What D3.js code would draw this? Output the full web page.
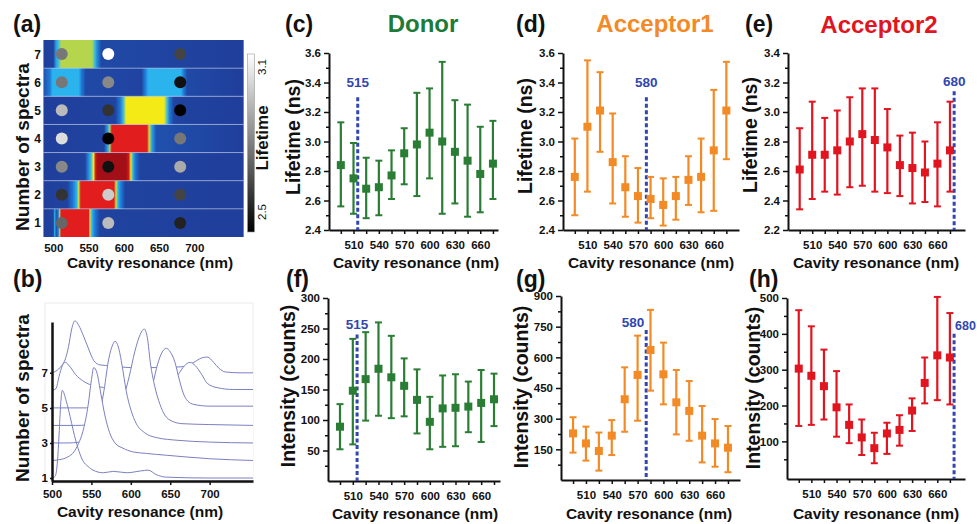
<!DOCTYPE html>
<html>
<head>
<meta charset="utf-8">
<title>Cavity resonance: lifetime and intensity</title>
<script src="https://cdn.jsdelivr.net/npm/d3@7/dist/d3.min.js"></script>
<style>
    body { margin: 0; background: #ffffff; }
    svg { display: block; }
</style>
</head>
<body>
<svg id="figure" width="977" height="524"></svg>
<script>
/*
    DATA
*/

// cavity resonance of each measurement, nm
var resonance = [495, 510, 525, 540, 555, 570, 585, 600, 615, 630, 645, 660, 675];
var labelledResonance = [510, 540, 570, 600, 630, 660];

// lifetime (ns): mean, lower and upper end of the bar
var donorLifetime     = [2.84, 2.75, 2.68, 2.69, 2.77, 2.92, 2.98, 3.06, 3.00, 2.93, 2.87, 2.78, 2.85];
var donorLifetimeLow  = [2.56, 2.51, 2.48, 2.50, 2.61, 2.71, 2.63, 2.75, 2.51, 2.58, 2.49, 2.52, 2.61];
var donorLifetimeHigh = [3.13, 2.99, 2.89, 2.87, 2.94, 3.09, 3.33, 3.36, 3.54, 3.28, 3.25, 3.10, 3.14];

var acc1Lifetime     = [2.76, 3.10, 3.21, 2.86, 2.69, 2.63, 2.61, 2.57, 2.63, 2.74, 2.76, 2.94, 3.21];
var acc1LifetimeLow  = [2.50, 2.66, 2.93, 2.58, 2.49, 2.45, 2.48, 2.43, 2.47, 2.57, 2.52, 2.53, 2.88];
var acc1LifetimeHigh = [3.02, 3.55, 3.47, 3.19, 2.90, 2.82, 2.76, 2.75, 2.76, 2.90, 3.02, 3.35, 3.54];

var acc2Lifetime     = [2.61, 2.71, 2.71, 2.74, 2.80, 2.85, 2.81, 2.76, 2.64, 2.62, 2.59, 2.65, 2.74];
var acc2LifetimeLow  = [2.34, 2.41, 2.46, 2.44, 2.49, 2.50, 2.46, 2.45, 2.43, 2.38, 2.39, 2.36, 2.46];
var acc2LifetimeHigh = [2.89, 3.07, 2.96, 3.01, 3.10, 3.16, 3.16, 3.02, 2.84, 2.86, 2.80, 2.93, 3.07];

// intensity (counts)
var donorIntensity     = [89, 148, 167, 184, 170, 156, 133, 97, 119, 120, 122, 128, 134];
var donorIntensityLow  = [52, 60, 99, 107, 103, 106, 78, 52, 56, 57, 80, 64, 90];
var donorIntensityHigh = [126, 233, 244, 260, 238, 201, 183, 138, 173, 175, 163, 182, 176];

var acc1Intensity     = [228, 179, 142, 217, 395, 514, 636, 517, 380, 338, 217, 179, 158];
var acc1IntensityLow  = [134, 95, 46, 122, 236, 290, 437, 370, 223, 192, 86, 65, 38];
var acc1IntensityHigh = [307, 261, 232, 293, 551, 706, 832, 672, 538, 484, 362, 298, 264];

var acc2Intensity     = [303, 283, 254, 195, 146, 111, 81, 122, 132, 186, 263, 340, 334];
var acc2IntensityLow  = [143, 146, 161, 113, 95, 62, 39, 65, 88, 129, 206, 215, 203];
var acc2IntensityHigh = [466, 421, 356, 296, 203, 161, 124, 152, 173, 220, 334, 503, 458];

// emission wavelengths marked with the dashed lines
var emissionNm = [515, 580, 680];

// (a) spectra number, colour profile of each row [nm, level], dot lifetimes
var spectraRows = [1, 2, 3, 4, 5, 6, 7];
var rowProfiles = [
    [[486,0.08],[500,0.1],[502,0.45],[504,0.15],[507,0.3],[509,0.6],[511,0.85],[550,0.85],[552,0.65],[555,0.45],[559,0.3],[566,0.1],[770,0.08]],
    [[486,0.08],[520,0.1],[528,0.3],[533,0.45],[536,0.65],[539,0.85],[586,0.85],[589,0.65],[592,0.45],[596,0.3],[602,0.1],[770,0.08]],
    [[486,0.08],[545,0.1],[550,0.35],[554,0.5],[557,0.7],[560,0.88],[563,0.97],[603,0.97],[607,0.88],[610,0.68],[613,0.45],[617,0.25],[623,0.1],[770,0.08]],
    [[486,0.08],[572,0.1],[577,0.4],[580,0.6],[583,0.85],[633,0.85],[636,0.65],[640,0.4],[646,0.15],[770,0.08]],
    [[486,0.08],[588,0.1],[595,0.3],[600,0.5],[603,0.7],[657,0.7],[661,0.5],[665,0.3],[671,0.1],[770,0.08]],
    [[486,0.15],[495,0.3],[499,0.45],[536,0.45],[540,0.3],[546,0.12],[625,0.1],[630,0.3],[635,0.45],[681,0.45],[685,0.3],[690,0.12],[770,0.08]],
    [[486,0.08],[500,0.1],[504,0.4],[508,0.5],[511,0.62],[555,0.62],[558,0.5],[562,0.35],[568,0.12],[770,0.08]]
];
var dotNm = [512, 578, 680];
var dotLifetime = [
    [2.74, 2.94, 2.58],
    [2.62, 2.98, 2.66],
    [2.82, 2.54, 2.90],
    [3.02, 2.50, 2.78],
    [2.94, 2.62, 2.50],
    [2.78, 2.82, 2.54],
    [2.78, 3.10, 2.66]
];
var lifetimeBar = [2.5, 3.1];
var heatmapTicks = [500, 550, 600, 650, 700];

// (b) stacked spectra, [nm, offset intensity]
var spectrum1 = [[500,1.0],[504,1.1],[507,2.0],[509,3.5],[511,5.2],[513,6.0],[518,5.4],[523,4.5],[527,3.7],[533,2.7],[539,2.0],[546,1.65],[552,1.45],[565,1.3],[578,1.38],[595,1.3],[612,1.4],[622,1.45],[632,1.2],[645,1.05],[700,1.0],[755,1.0]];
var spectrum2 = [[500,2.0],[510,2.05],[520,2.2],[528,2.5],[533,2.9],[540,3.8],[546,5.2],[550,6.6],[553,7.3],[557,7.0],[562,5.8],[567,4.6],[573,3.6],[580,3.0],[590,2.7],[602,2.5],[620,2.4],[645,2.3],[700,2.1],[755,2.0]];
var spectrum3 = [[500,3.0],[520,3.0],[535,3.05],[548,3.3],[558,4.2],[566,6.0],[572,7.8],[577,8.6],[580,8.8],[584,8.5],[589,7.4],[594,6.0],[600,4.9],[607,4.1],[617,3.6],[633,3.3],[660,3.15],[700,3.05],[755,3.0]];
var spectrum4 = [[500,4.0],[530,4.0],[560,4.1],[580,4.6],[590,5.5],[598,6.8],[605,8.2],[612,9.2],[617,9.5],[621,9.0],[625,7.5],[630,6.3],[637,5.2],[643,4.6],[652,4.25],[665,4.1],[700,4.05],[755,4.0]];
var spectrum5 = [[500,5.0],[560,5.0],[600,5.1],[620,5.5],[628,6.4],[634,7.5],[640,8.2],[645,8.4],[650,8.2],[656,7.6],[661,6.7],[666,5.9],[672,5.4],[680,5.2],[700,5.1],[755,5.1]];
var spectrum6 = [[500,6.0],[505,6.1],[509,6.8],[513,7.4],[517,7.6],[522,7.4],[530,6.9],[539,6.55],[550,6.3],[570,6.15],[600,6.1],[630,6.15],[650,6.4],[660,6.9],[668,7.4],[675,7.6],[682,7.4],[690,6.9],[697,6.4],[710,6.15],[730,6.05],[755,6.05]];
var spectrum7 = [[500,7.0],[505,7.1],[512,7.4],[517,7.8],[521,8.5],[525,9.5],[529,9.97],[534,9.7],[540,9.1],[547,8.3],[553,7.7],[561,7.45],[575,7.4],[600,7.3],[640,7.3],[665,7.35],[680,7.6],[690,7.85],[697,7.9],[705,7.6],[712,7.25],[720,7.05],[740,7.0],[755,7.0]];
var spectraTicks = [1, 3, 5, 7];

/*
    STYLE
*/

var FONT = "'Liberation Sans', Arial, Helvetica, sans-serif";
var donorColor = "#2a7d34";
var acc1Color = "#f28a26";
var acc2Color = "#e1151f";
var dashColor = "#3146b0";
var spectrumColor = "#7a80c2";

var svg = d3.select("#figure").attr("font-family", FONT);
var defs = svg.append("defs");

function styleAxis(sel) {
    sel.attr("font-family", FONT).attr("font-size", 11.5).attr("font-weight", "bold");
    sel.select(".domain").attr("stroke-width", 2).attr("stroke", "#111");
    sel.selectAll(".tick line").attr("stroke-width", 1.5).attr("stroke", "#111");
    sel.selectAll(".tick text").attr("fill", "#111");
}

function addText(x, y, str, size, opts) {
    opts = opts || {};
    var t = svg.append("text")
        .attr("transform", "translate(" + x + "," + y + ")" + (opts.rotate ? " rotate(-90)" : ""))
        .attr("text-anchor", opts.anchor || "middle")
        .attr("font-size", size)
        .attr("font-weight", opts.weight || "bold")
        .attr("fill", opts.fill || "#111")
        .text(str);
    return t;
}

/*
    (a) HEATMAP
*/

function plotHeatmap() {
    var xScale = d3.scaleLinear().domain([500, 700]).range([53.3, 194.3]);
    var yScale = d3.scaleBand().domain(spectraRows.slice().reverse()).range([40, 237]);

    var jet = d3.scaleLinear()
        .domain([0.08, 0.3, 0.45, 0.55, 0.62, 0.7, 0.85, 0.97])
        .range(["#203e9b", "#2079d6", "#2bb3ee", "#74d2b0", "#b5d64c", "#f4ea16", "#e11d1e", "#a30f16"])
        .clamp(true);
    var gray = d3.scaleLinear().domain(lifetimeBar).range(["#000000", "#ffffff"]).clamp(true);

    var x0 = xScale(486), x1 = xScale(770);

    spectraRows.forEach(function(row, i) {
        var grad = defs.append("linearGradient").attr("id", "row" + row);
        rowProfiles[i].forEach(function(p) {
            grad.append("stop")
                .attr("offset", (xScale(p[0]) - x0) / (x1 - x0))
                .attr("stop-color", jet(p[1]));
        });
        svg.append("rect")
            .attr("x", x0).attr("y", yScale(row))
            .attr("width", x1 - x0).attr("height", yScale.bandwidth())
            .attr("fill", "url(#row" + row + ")");
    });

    // thin light seams between rows
    spectraRows.slice(0, 6).forEach(function(row) {
        svg.append("line")
            .attr("x1", x0).attr("x2", x1)
            .attr("y1", yScale(row)).attr("y2", yScale(row))
            .attr("stroke", "#b9c6e6").attr("stroke-opacity", 0.6).attr("stroke-width", 1);
    });

    spectraRows.forEach(function(row, i) {
        dotNm.forEach(function(nm, j) {
            svg.append("circle")
                .attr("cx", xScale(nm))
                .attr("cy", yScale(row) + yScale.bandwidth() / 2)
                .attr("r", 6)
                .attr("fill", gray(dotLifetime[i][j]));
        });
        addText(41, yScale(row) + yScale.bandwidth() / 2 + 4.5, row, 12, {anchor: "end"});
    });

    var xAxis = svg.append("g")
        .attr("transform", "translate(0,237)")
        .call(d3.axisBottom(xScale).tickValues(heatmapTicks).tickSize(0).tickPadding(7))
        .call(styleAxis);
    xAxis.select(".domain").remove();

    addText(150, 268, "Cavity resonance (nm)", 15.5);
    addText(29, 147, "Number of spectra", 19, {rotate: true});

    // grey colour bar for the lifetime dots
    var cb = defs.append("linearGradient").attr("id", "lifeBar")
        .attr("x1", 0).attr("x2", 0).attr("y1", 0).attr("y2", 1);
    cb.append("stop").attr("offset", 0).attr("stop-color", gray(lifetimeBar[1]));
    cb.append("stop").attr("offset", 1).attr("stop-color", gray(lifetimeBar[0]));
    svg.append("rect")
        .attr("x", 247.5).attr("y", 54).attr("width", 7).attr("height", 178)
        .attr("fill", "url(#lifeBar)").attr("stroke", "#999").attr("stroke-width", 0.6);

    addText(266, 67, lifetimeBar[1].toFixed(1), 11.5, {rotate: true, weight: "normal"});
    addText(266, 212, lifetimeBar[0].toFixed(1), 11.5, {rotate: true, weight: "normal"});
    addText(268, 138, "Lifetime", 17, {rotate: true});
}

/*
    (b) STACKED SPECTRA
*/

function plotSpectra() {
    var xScale = d3.scaleLinear().domain([500, 755]).range([52, 253]);
    var yScale = d3.scaleLinear().domain([0.83, 9.9]).range([481, 322]);

    svg.append("rect")
        .attr("x", 45).attr("y", 303).attr("width", 208).attr("height", 180)
        .attr("fill", "none").attr("stroke", "#ececec");

    var line = d3.line()
        .x(function(d) { return xScale(d[0]); })
        .y(function(d) { return yScale(d[1]); })
        .curve(d3.curveMonotoneX);
    var area = d3.area()
        .x(function(d) { return xScale(d[0]); })
        .y0(yScale(0.9))
        .y1(function(d) { return yScale(d[1]); })
        .curve(d3.curveMonotoneX);

    // back to front, each one hides what lies behind it
    var backToFront = [spectrum7, spectrum6, spectrum5, spectrum4, spectrum3, spectrum2];
    backToFront.forEach(function(s) {
        svg.append("path").datum(s).attr("d", area).attr("fill", "#ffffff");
        svg.append("path").datum(s).attr("d", line)
            .attr("fill", "none").attr("stroke", spectrumColor).attr("stroke-width", 1);
    });
    svg.append("path").datum(spectrum1).attr("d", line)
        .attr("fill", "none").attr("stroke", spectrumColor).attr("stroke-width", 1);

    var xAxis = svg.append("g")
        .attr("transform", "translate(0,481)")
        .call(d3.axisBottom(xScale).tickValues(heatmapTicks).tickSize(4).tickSizeOuter(0).tickPadding(5))
        .call(styleAxis);
    xAxis.select(".domain").attr("stroke-width", 2.5);

    var yAxis = svg.append("g")
        .attr("transform", "translate(52,0)")
        .call(d3.axisLeft(yScale).tickValues(spectraTicks).tickSize(2).tickSizeOuter(0).tickPadding(2))
        .call(styleAxis);
    yAxis.select(".domain").attr("stroke-width", 2.5);

    addText(140, 517, "Cavity resonance (nm)", 15.5);
    addText(29, 398, "Number of spectra", 19, {rotate: true});
}

/*
    (c)-(h) ERROR BAR PANELS
*/

function minorTicks(majors, lo) {
    var step = majors[1] - majors[0];
    return majors.map(function(v) { return v - step / 2; })
        .filter(function(v) { return v > lo + 1e-9; });
}

function plotErrorPanel(p) {
    var xScale = d3.scaleLinear().domain([481, p.xMax]).range([p.left, p.right]);
    var yScale = d3.scaleLinear().domain(p.yDomain).range([p.bottom, p.top]);

    var minor = svg.append("g")
        .attr("transform", "translate(" + p.left + ",0)")
        .call(d3.axisLeft(yScale).tickValues(minorTicks(p.yTicks, p.yDomain[0])).tickSize(3).tickFormat(""))
        .call(styleAxis);
    minor.select(".domain").remove();

    svg.append("g")
        .attr("transform", "translate(" + p.left + ",0)")
        .call(d3.axisLeft(yScale).tickValues(p.yTicks).tickSize(5).tickSizeOuter(0).tickPadding(3)
            .tickFormat(d3.format(p.yFormat)))
        .call(styleAxis);

    svg.append("g")
        .attr("transform", "translate(0," + p.bottom + ")")
        .call(d3.axisBottom(xScale).tickValues(resonance).tickSize(4).tickSizeOuter(0).tickPadding(7)
            .tickFormat(function(d) { return labelledResonance.indexOf(d) >= 0 ? d : ""; }))
        .call(styleAxis);

    // dashed emission line with its label
    var mx = xScale(p.marker);
    svg.append("line")
        .attr("x1", mx).attr("x2", mx)
        .attr("y1", yScale(p.markerTop)).attr("y2", p.bottom)
        .attr("stroke", dashColor).attr("stroke-width", 3)
        .attr("stroke-dasharray", "4,2.5");
    var dx = p.markerAnchor === "end" ? -2 : (p.markerAnchor === "start" ? 1 : 0);
    addText(mx + dx, yScale(p.markerTop) - p.markerGap, p.marker, p.markerSize || 13.5,
        {anchor: p.markerAnchor, fill: dashColor});

    var bars = svg.append("g");
    resonance.forEach(function(nm, i) {
        var x = xScale(nm);
        bars.append("line")
            .attr("x1", x).attr("x2", x)
            .attr("y1", yScale(p.low[i])).attr("y2", yScale(p.high[i]))
            .attr("stroke", p.color).attr("stroke-width", 2.2);
        [p.low[i], p.high[i]].forEach(function(v) {
            bars.append("line")
                .attr("x1", x - 3.5).attr("x2", x + 3.5)
                .attr("y1", yScale(v)).attr("y2", yScale(v))
                .attr("stroke", p.color).attr("stroke-width", 2);
        });
        bars.append("rect")
            .attr("x", x - 4).attr("y", yScale(p.mean[i]) - 4)
            .attr("width", 8).attr("height", 8)
            .attr("fill", p.color);
    });

    addText(p.yLabelX, p.yLabelY, p.yLabel, 19.5, {rotate: true});
    addText(p.xLabelX, p.xLabelY, "Cavity resonance (nm)", 15.5);
}

var lifetimeTicks = [2.4, 2.6, 2.8, 3.0, 3.2, 3.4, 3.6];
var lifetimeTicksE = [2.2, 2.4, 2.6, 2.8, 3.0, 3.2, 3.4];

var panels = [
    {mean: donorLifetime, low: donorLifetimeLow, high: donorLifetimeHigh, color: donorColor,
     left: 329, right: 498, top: 53, bottom: 230, xMax: 681,
     yDomain: [2.4, 3.6], yTicks: lifetimeTicks, yFormat: ".1f",
     yLabel: "Lifetime (ns)", yLabelX: 300, yLabelY: 137, xLabelX: 416, xLabelY: 268,
     marker: emissionNm[0], markerTop: 3.30, markerGap: 10, markerAnchor: "middle"},
    {mean: acc1Lifetime, low: acc1LifetimeLow, high: acc1LifetimeHigh, color: acc1Color,
     left: 563, right: 739, top: 53, bottom: 230, xMax: 690,
     yDomain: [2.4, 3.6], yTicks: lifetimeTicks, yFormat: ".1f",
     yLabel: "Lifetime (ns)", yLabelX: 532, yLabelY: 136, xLabelX: 651, xLabelY: 268,
     marker: emissionNm[1], markerTop: 3.30, markerGap: 10, markerAnchor: "middle"},
    {mean: acc2Lifetime, low: acc2LifetimeLow, high: acc2LifetimeHigh, color: acc2Color,
     left: 788, right: 965, top: 53, bottom: 230, xMax: 693,
     yDomain: [2.2, 3.4], yTicks: lifetimeTicksE, yFormat: ".1f",
     yLabel: "Lifetime (ns)", yLabelX: 757, yLabelY: 135, xLabelX: 876, xLabelY: 268,
     marker: emissionNm[2], markerTop: 3.14, markerGap: 5, markerAnchor: "middle"},
    {mean: donorIntensity, low: donorIntensityLow, high: donorIntensityHigh, color: donorColor,
     left: 328, right: 500, top: 298, bottom: 481, xMax: 682,
     yDomain: [0, 300], yTicks: [50, 100, 150, 200, 250, 300], yFormat: "d",
     yLabel: "Intensity (counts)", yLabelX: 295, yLabelY: 386, xLabelX: 415, xLabelY: 519,
     marker: emissionNm[0], markerTop: 240, markerGap: 6, markerAnchor: "middle"},
    {mean: acc1Intensity, low: acc1IntensityLow, high: acc1IntensityHigh, color: acc1Color,
     left: 561, right: 740, top: 296, bottom: 480, xMax: 689,
     yDomain: [0, 900], yTicks: [150, 300, 450, 600, 750, 900], yFormat: "d",
     yLabel: "Intensity (counts)", yLabelX: 528, yLabelY: 387, xLabelX: 649, xLabelY: 519,
     marker: emissionNm[1], markerTop: 734, markerGap: 3, markerAnchor: "end"},
    {mean: acc2Intensity, low: acc2IntensityLow, high: acc2IntensityHigh, color: acc2Color,
     left: 787, right: 965, top: 298, bottom: 479, xMax: 693,
     yDomain: [-5, 500], yTicks: [100, 200, 300, 400, 500], yFormat: "d",
     yLabel: "Intensity (counts)", yLabelX: 760, yLabelY: 388, xLabelX: 876, xLabelY: 519,
     marker: emissionNm[2], markerTop: 400, markerGap: 4, markerAnchor: "start", markerSize: 12.5}
];

plotHeatmap();
plotSpectra();
panels.forEach(plotErrorPanel);

/*
    TITLES AND PANEL LETTERS
*/

addText(423, 32, "Donor", 24, {fill: "#1d7a37"});
addText(655, 32, "Acceptor1", 24, {fill: acc1Color});
addText(879, 33, "Acceptor2", 24, {fill: acc2Color});

[["(a)", 13, 32], ["(b)", 13, 287], ["(c)", 285, 32], ["(d)", 516, 32], ["(e)", 745, 32],
 ["(f)", 286, 287], ["(g)", 516, 287], ["(h)", 749, 287]].forEach(function(l) {
    addText(l[1], l[2], l[0], 23, {anchor: "start"});
});
</script>
</body>
</html>
